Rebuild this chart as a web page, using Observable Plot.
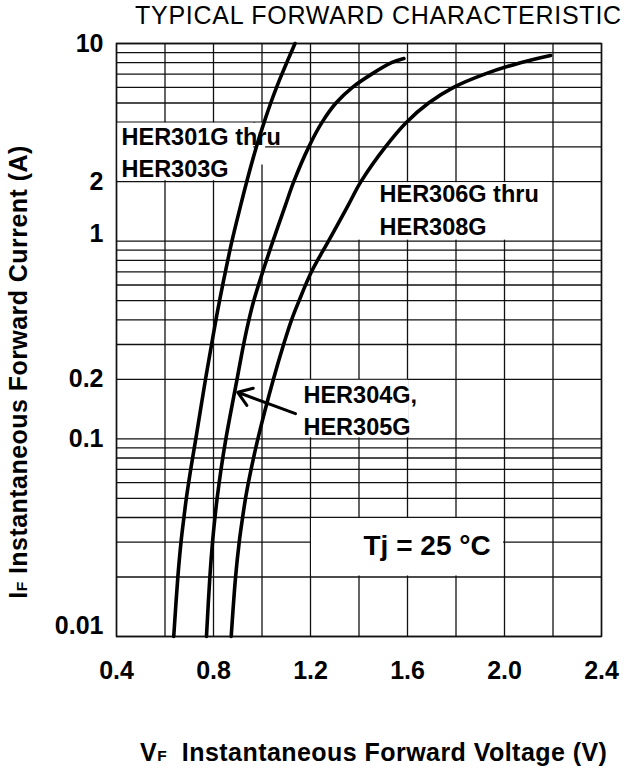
<!DOCTYPE html>
<html><head><meta charset="utf-8">
<script src="https://cdn.jsdelivr.net/npm/d3@7"></script>
<script src="https://cdn.jsdelivr.net/npm/@observablehq/plot@0.6"></script>
<style>
body{margin:0;background:#fff;}
#wrap{position:relative;width:629px;height:771px;font-family:"Liberation Sans",Arial,sans-serif;color:#000;overflow:hidden;}
#chart{position:absolute;left:0;top:0;}
#title{position:absolute;left:135px;top:3px;font-size:25px;line-height:1;letter-spacing:0.75px;white-space:nowrap;}
#xlabel{position:absolute;left:140px;top:740px;font-size:25px;line-height:1;letter-spacing:0.45px;font-weight:bold;white-space:nowrap;}
#ylabel{position:absolute;left:18px;top:372px;transform:translate(-50%,-50%) rotate(-90deg);font-size:25px;line-height:1;letter-spacing:0.45px;font-weight:bold;white-space:nowrap;}
.sub{font-size:0.62em;}
</style></head>
<body><div id="wrap">
<div id="chart"></div>
<div id="title">TYPICAL FORWARD CHARACTERISTIC</div>
<div id="ylabel">I<span class="sub">F</span> Instantaneous Forward Current (A)</div>
<div id="xlabel">V<span class="sub">F</span>&nbsp; Instantaneous Forward Voltage (V)</div>
</div>
<script>
// Axis ticks and grid
const voltTicks = [0.4, 0.8, 1.2, 1.6, 2.0, 2.4];
const currTicks = [10, 2, 0.2, 0.1];
const currTicksHigh = [1];
const currTicksLow = [0.01];
const gridVolts = [0.4, 0.6, 0.8, 1.0, 1.2, 1.4, 1.6, 1.8, 2.0, 2.2, 2.4];
const gridCurr = [0.01, 0.02, 0.03, 0.04, 0.05, 0.06, 0.07, 0.08, 0.09,
                  0.1, 0.2, 0.3, 0.4, 0.5, 0.6, 0.7, 0.8, 0.9,
                  1, 2, 3, 4, 5, 6, 7, 8, 9, 10];

// Curves: forward voltage (V) vs current (A)
const her301V = [0.636, 0.653, 0.666, 0.678, 0.688, 0.706, 0.727, 0.767, 0.792, 0.810, 0.825, 0.849, 0.876, 0.911, 0.937, 0.977, 1.009, 1.036, 1.060, 1.082, 1.102, 1.120, 1.136];
const her301I = [0.01, 0.02, 0.03, 0.04, 0.05, 0.07, 0.1, 0.2, 0.3, 0.4, 0.5, 0.7, 1, 1.5, 2, 3, 4, 5, 6, 7, 8, 9, 10];
const her304V = [0.771, 0.785, 0.796, 0.806, 0.815, 0.831, 0.851, 0.897, 0.924, 0.946, 0.966, 1.003, 1.045, 1.095, 1.131, 1.193, 1.248, 1.305, 1.373, 1.452, 1.534, 1.585];
const her304I = [0.01, 0.02, 0.03, 0.04, 0.05, 0.07, 0.1, 0.2, 0.3, 0.4, 0.5, 0.7, 1, 1.5, 2, 3, 4, 5, 6, 7, 8, 8.4];
const her306V = [0.873, 0.891, 0.906, 0.920, 0.932, 0.955, 0.983, 1.047, 1.089, 1.122, 1.153, 1.204, 1.274, 1.353, 1.408, 1.509, 1.596, 1.687, 1.790, 1.918, 2.066, 2.190];
const her306I = [0.01, 0.02, 0.03, 0.04, 0.05, 0.07, 0.1, 0.2, 0.3, 0.4, 0.5, 0.7, 1, 1.5, 2, 3, 4, 5, 6, 7, 8, 8.7];

// Annotations (data units)
const labelText = ["HER301G thru", "HER303G", "HER306G thru", "HER308G", "HER304G,", "HER305G"];
const labelV = [0.4206, 0.4206, 1.4845, 1.4845, 1.171, 1.171];
const labelI = [3.05, 2.11, 1.575, 1.08, 0.151, 0.104];
const tjText = ["Tj = 25 °C"];
const tjV = [1.4186];
const tjI = [0.0257];
const boxV1 = [0.4, 0.97, 1.2, 1.17, 1.2];
const boxV2 = [0.97, 1.019, 2.2, 1.61, 2.0];
const boxI1 = [2, 2.4, 1, 0.1, 0.02];
const boxI2 = [4, 4, 2, 0.2, 0.04];
const arrowFrom = [1.138, 0.134];
const arrowTo = [0.900, 0.172];

const curves = [
  ...her301V.map((v, k) => ({s: "HER301G", v, i: her301I[k]})),
  ...her304V.map((v, k) => ({s: "HER304G", v, i: her304I[k]})),
  ...her306V.map((v, k) => ({s: "HER306G", v, i: her306I[k]}))
];
const labels = labelText.map((t, k) => ({t, v: labelV[k], i: labelI[k]}));
const tj = tjText.map((t, k) => ({t, v: tjV[k], i: tjI[k]}));
const boxes = boxV1.map((v1, k) => ({v1, v2: boxV2[k], i1: boxI1[k], i2: boxI2[k]}));

const yAxisOpts = {tickSize: 0, tickPadding: 13, tickFormat: d => String(d), label: null};
const chart = Plot.plot({
  width: 629,
  height: 700,
  marginLeft: 116,
  marginRight: 28,
  marginTop: 43,
  marginBottom: 64,
  style: {fontFamily: "Liberation Sans, Arial, sans-serif", fontSize: "25px", fontWeight: "bold", color: "#000", background: "#fff"},
  x: {domain: [0.4, 2.4]},
  y: {type: "log", domain: [0.01, 10]},
  marks: [
    Plot.ruleX(gridVolts, {stroke: "#111", strokeWidth: 1.3}),
    Plot.ruleY(gridCurr, {stroke: "#111", strokeWidth: 1.3}),
    Plot.rect(boxes, {x1: "v1", x2: "v2", y1: "i1", y2: "i2", fill: "white", inset: 1}),
    Plot.frame({stroke: "#111", strokeWidth: 1.5}),
    Plot.text(labels, {x: "v", y: "i", text: "t", textAnchor: "start", lineAnchor: "bottom", fontSize: 23.5, fontWeight: "bold"}),
    Plot.text(tj, {x: "v", y: "i", text: "t", textAnchor: "start", lineAnchor: "bottom", fontSize: 28, fontWeight: "bold"}),
    Plot.line(curves, {x: "v", y: "i", z: "s", stroke: "black", strokeWidth: 3.6, curve: "catmull-rom", strokeLinecap: "round"}),
    Plot.arrow([{x1: arrowFrom[0], y1: arrowFrom[1], x2: arrowTo[0], y2: arrowTo[1]}], {x1: "x1", y1: "y1", x2: "x2", y2: "y2", stroke: "black", strokeWidth: 3, headLength: 8, headAngle: 70}),
    Plot.axisX(voltTicks, {tickSize: 0, tickPadding: 25, tickFormat: d => d.toFixed(1), label: null}),
    Plot.axisY(currTicks, yAxisOpts),
    Plot.axisY(currTicksHigh, {...yAxisOpts, dy: -7}),
    Plot.axisY(currTicksLow, {...yAxisOpts, dy: -11})
  ]
});
document.getElementById("chart").appendChild(chart);
</script>
</body></html>
